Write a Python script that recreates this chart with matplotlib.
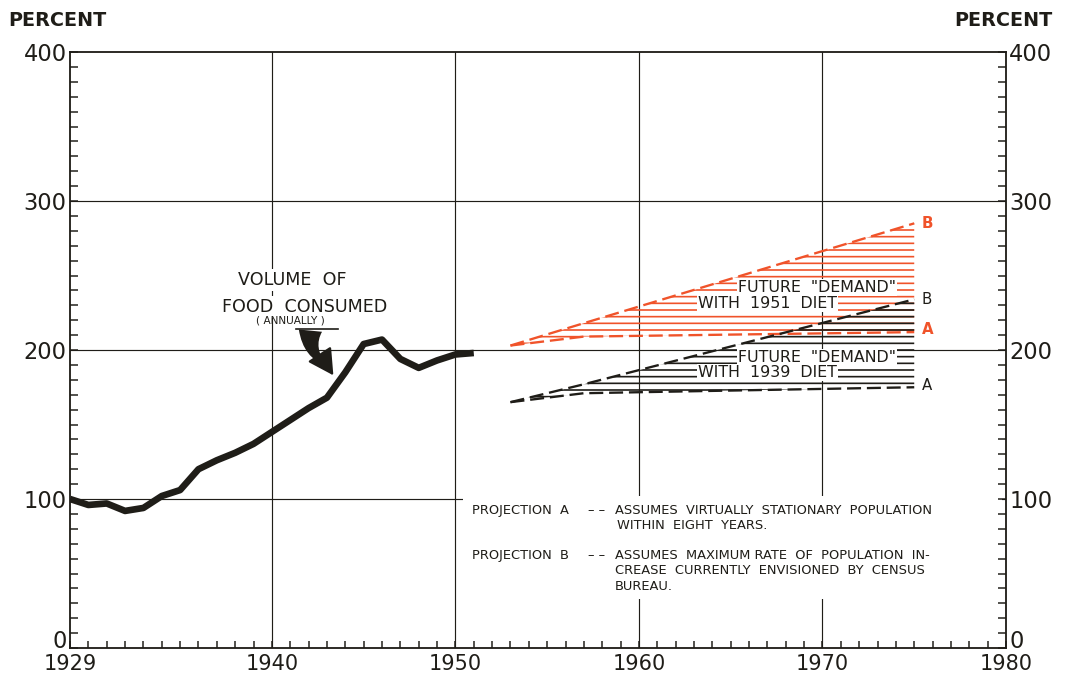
import matplotlib
matplotlib.use('Agg')
import matplotlib.pyplot as plt
from matplotlib.ticker import MultipleLocator, FixedLocator
from matplotlib.patches import Rectangle
from matplotlib.transforms import ScaledTranslation

# annual volume of food consumed, percent
years = list(range(1929, 1952))
food_volume = [100, 96, 97, 92, 94, 102, 106, 120, 126, 131, 137, 145,
               153, 161, 168, 185, 204, 207, 194, 188, 193, 197, 198]

# projections of future demand
proj_years = [1953, 1957, 1975]
diet51_A = [203, 209, 212]
diet51_B = [203, 218, 285]
diet39_A = [165, 171, 175]
diet39_B = [165, 177, 234]

x_ticks = [1929, 1940, 1950, 1960, 1970, 1980]
y_ticks = [0, 100, 200, 300, 400]

INK = '#1f1d18'
RED = '#f0532a'

plt.rcParams['font.family'] = 'DejaVu Sans'
plt.rcParams['hatch.linewidth'] = 1.0

fig = plt.figure(figsize=(1065 / 120, 678 / 120), dpi=120)
ax = fig.add_axes([70 / 1065, 1 - 648 / 678, 936 / 1065, 596 / 678])
ax.set_xlim(1929, 1980)
ax.set_ylim(0, 400)

# grid drawn by hand so the text boxes can sit on top of it
for y in [100, 200, 300]:
    ax.axhline(y, color=INK, lw=0.7, zorder=0.5)
for x in [1940, 1950, 1960, 1970]:
    ax.axvline(x, color=INK, lw=0.7, zorder=0.5)

# history
ax.plot(years, food_volume, color=INK, lw=4.0, solid_capstyle='butt',
        solid_joinstyle='round', zorder=3)

# projections, hatched bands
ax.fill_between(proj_years, diet51_A, diet51_B, facecolor='none',
                edgecolor=RED, hatch='---', linewidth=0, zorder=2)
ax.fill_between(proj_years, diet39_A, diet39_B, facecolor='none',
                edgecolor=INK, hatch='---', linewidth=0, zorder=2.1)
for ys, c in [(diet51_A, RED), (diet51_B, RED), (diet39_A, INK), (diet39_B, INK)]:
    ax.plot(proj_years, ys, color=c, lw=1.4, dashes=(6, 2.5), zorder=2.5)

ax.text(proj_years[-1] + 0.4, diet51_B[-1], 'B', color=RED, fontsize=9,
        fontweight='bold', va='center', ha='left')
ax.text(proj_years[-1] + 0.4, diet51_A[-1] + 2, 'A', color=RED, fontsize=9,
        fontweight='bold', va='center', ha='left')
ax.text(proj_years[-1] + 0.4, diet39_B[-1], 'B', color=INK, fontsize=9,
        va='center', ha='left')
ax.text(proj_years[-1] + 0.4, diet39_A[-1] + 1.5, 'A', color=INK, fontsize=9,
        va='center', ha='left')

box = dict(facecolor='white', edgecolor='none', pad=0.6)
ax.text(1969.7, 242, 'FUTURE  "DEMAND"', fontsize=9.5, color=INK,
        ha='center', va='center', bbox=box, zorder=4)
ax.text(1967.0, 231, 'WITH  1951  DIET', fontsize=9.5, color=INK,
        ha='center', va='center', bbox=box, zorder=4)
ax.text(1969.7, 195, 'FUTURE  "DEMAND"', fontsize=9.5, color=INK,
        ha='center', va='center', bbox=box, zorder=4)
ax.text(1967.0, 185, 'WITH  1939  DIET', fontsize=9.5, color=INK,
        ha='center', va='center', bbox=box, zorder=4)

# label of the historical line
ax.text(1941.1, 247, 'VOLUME  OF', fontsize=10.5, color=INK, ha='center',
        va='center', bbox=dict(facecolor='white', edgecolor='none', pad=1), zorder=4)
ax.text(1941.8, 229, 'FOOD  CONSUMED', fontsize=10.5, color=INK, ha='center',
        va='center', bbox=dict(facecolor='white', edgecolor='none', pad=1), zorder=4)
ax.text(1941.0, 219.5, '( ANNUALLY )', fontsize=6.3, color=INK, ha='center',
        va='center', zorder=4)
ax.plot([1941.3, 1943.6], [214, 214], color=INK, lw=1.0, zorder=4)
# tapered curved pointer plus its head
ax.annotate('', xy=(1943.0, 189.5), xytext=(1942.1, 213),
            arrowprops=dict(arrowstyle='wedge,tail_width=0.7,shrink_factor=0.5',
                            connectionstyle='arc3,rad=0.3', mutation_scale=20,
                            color=INK, lw=0, shrinkA=0, shrinkB=0),
            zorder=4)
ax.annotate('', xy=(1943.35, 183), xytext=(1942.95, 190.5),
            arrowprops=dict(arrowstyle='-|>,head_length=0.55,head_width=0.3',
                            mutation_scale=24, color=INK, lw=1.4,
                            shrinkA=0, shrinkB=0),
            zorder=4)

# explanatory note
ax.add_patch(Rectangle((1950.4, 33), 29.4, 69, facecolor='white',
                       edgecolor='none', zorder=1))
note_parts = [
    (1950.9, 92, 'PROJECTION  A'),
    (1957.2, 92, '– –'),
    (1958.7, 92, 'ASSUMES  VIRTUALLY  STATIONARY  POPULATION'),
    (1958.8, 82, 'WITHIN  EIGHT  YEARS.'),
    (1950.9, 62, 'PROJECTION  B'),
    (1957.2, 62, '– –'),
    (1958.7, 62, 'ASSUMES  MAXIMUM RATE  OF  POPULATION  IN-'),
    (1958.7, 52, 'CREASE  CURRENTLY  ENVISIONED  BY  CENSUS'),
    (1958.7, 41.5, 'BUREAU.'),
]
for x, y, s in note_parts:
    ax.text(x, y, s, fontsize=7.8, color=INK, ha='left', va='center', zorder=4)

# axes and ticks
for side in ['left', 'right', 'top', 'bottom']:
    ax.spines[side].set_color(INK)
    ax.spines[side].set_linewidth(1.1)
ax.xaxis.set_major_locator(FixedLocator(x_ticks))
ax.xaxis.set_minor_locator(MultipleLocator(1))
ax.yaxis.set_major_locator(FixedLocator(y_ticks))
ax.yaxis.set_minor_locator(MultipleLocator(10))
ax.tick_params(axis='x', which='both', direction='in', top=False, length=4,
               width=0.9, color=INK, labelsize=12.5, labelcolor=INK, pad=3.5)
ax.tick_params(axis='y', which='both', direction='in', left=True, right=True,
               labelleft=True, labelright=True, length=5, width=0.9,
               color=INK, labelsize=13.5, labelcolor=INK, pad=2)

# lift the two "0" labels a little so they clear the year labels below
lift = ScaledTranslation(0, 8.5 / 120, fig.dpi_scale_trans)
zero_tick = ax.yaxis.get_major_ticks()[0]
zero_tick.label1.set_transform(zero_tick.label1.get_transform() + lift)
zero_tick.label2.set_transform(zero_tick.label2.get_transform() + lift)

fig.text(8 / 1065, 1 - 20 / 678, 'PERCENT', fontsize=11.5, fontweight='bold',
         color=INK, ha='left', va='center')
fig.text(1052 / 1065, 1 - 20 / 678, 'PERCENT', fontsize=11.5, fontweight='bold',
         color=INK, ha='right', va='center')

fig.savefig('out.png', dpi=120, facecolor='white')
